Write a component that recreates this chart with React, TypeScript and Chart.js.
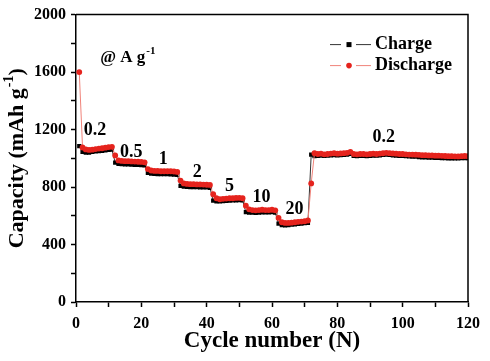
import React, { useEffect, useRef } from 'react';
import { Chart, registerables } from 'chart.js';

Chart.register(...registerables);

const SERIF = '"Liberation Serif", "Times New Roman", serif';

// Capacity (mAh g-1) per cycle, cycles 1..120
const dischargeCapacity: number[] = [
  // 0.2 A g-1 (1-11)
  1600, 1075, 1062, 1058, 1060, 1064, 1068, 1070, 1074, 1078, 1080,
  // 0.5 (12-21)
  1020, 985, 982, 980, 980, 978, 977, 976, 975, 972,
  // 1 (22-31)
  925, 915, 912, 912, 910, 910, 910, 910, 908, 905,
  // 2 (32-41)
  845, 825, 822, 820, 820, 818, 818, 817, 816, 815,
  // 5 (42-51)
  750, 722, 715, 718, 720, 722, 722, 724, 725, 722,
  // 10 (52-61)
  670, 645, 640, 638, 640, 642, 640, 640, 642, 638,
  // 20 (62-71)
  585, 555, 550, 550, 552, 555, 558, 560, 562, 567,
  // 0.2 (72-120)
  825,
  1035, 1030, 1032, 1028, 1030, 1033, 1035, 1032, 1034, 1036,
  1038, 1045, 1030, 1028, 1030, 1030, 1028, 1030, 1032, 1030,
  1033, 1035, 1038, 1036, 1034, 1032, 1030, 1030, 1028, 1026,
  1026, 1025, 1024, 1022, 1022, 1020, 1020, 1018, 1018, 1017,
  1016, 1015, 1015, 1014, 1013, 1015, 1016, 1015,
];

const chargeCapacity: number[] = [
  1085, 1045, 1040, 1040, 1044, 1048, 1050, 1052, 1055, 1058, 1060,
  970, 962, 960, 958, 957, 956, 955, 954, 952, 950,
  898, 893, 891, 890, 890, 889, 889, 888, 887, 884,
  808, 803, 801, 800, 799, 799, 798, 798, 797, 795,
  705, 700, 700, 702, 704, 706, 707, 708, 709, 707,
  625, 622, 622, 620, 622, 624, 624, 624, 625, 622,
  545, 535, 533, 535, 538, 541, 543, 545, 548, 551,
  1025,
  1015, 1017, 1019, 1017, 1019, 1021, 1022, 1021, 1022, 1023,
  1025, 1030, 1017, 1015, 1017, 1017, 1015, 1017, 1019, 1019,
  1021, 1023, 1025, 1023, 1021, 1019, 1017, 1017, 1015, 1013,
  1012, 1011, 1009, 1007, 1007, 1005, 1005, 1003, 1003, 1002,
  1001, 1000, 1000, 999, 999, 1001, 1002, 1002,
];

// Current-density labels (A g-1) and their anchor points in data coordinates
const rateLabels: string[] = ['0.2', '0.5', '1', '2', '5', '10', '20', '0.2'];
const rateLabelCycle: number[] = [5.8, 16.9, 26.7, 37.1, 47, 56.8, 66.9, 94.2];
const rateLabelCapacity: number[] = [1194, 1042, 993, 903, 806, 729, 646, 1146];

const seriesNames: string[] = ['Charge', 'Discharge'];
const seriesColors: string[] = ['#000000', '#e5231d'];
const lineColors: string[] = ['#333333', '#f0837a'];

const decoPlugin = {
  id: 'deco',
  afterDraw(chart: any) {
    const ctx = chart.ctx as CanvasRenderingContext2D;
    const { left, right, top, bottom } = chart.chartArea;
    const xs = chart.scales.x;
    const ys = chart.scales.y;
    ctx.save();
    // frame (top & right)
    ctx.strokeStyle = '#000';
    ctx.lineWidth = 1.5;
    ctx.beginPath();
    ctx.moveTo(left, top);
    ctx.lineTo(right, top);
    ctx.lineTo(right, bottom);
    ctx.stroke();

    // rate labels
    ctx.fillStyle = '#000';
    ctx.textAlign = 'center';
    ctx.textBaseline = 'middle';
    ctx.font = `bold 18px ${SERIF}`;
    rateLabels.forEach((t, i) => {
      ctx.fillText(t, xs.getPixelForValue(rateLabelCycle[i]), ys.getPixelForValue(rateLabelCapacity[i]));
    });

    // "@ A g-1"
    ctx.textAlign = 'left';
    ctx.font = `bold 17px ${SERIF}`;
    const ax = xs.getPixelForValue(7.4);
    const ay = ys.getPixelForValue(1700);
    const main = '@ A g';
    ctx.fillText(main, ax, ay);
    const mw = ctx.measureText(main).width;
    ctx.font = `bold 11px ${SERIF}`;
    ctx.fillText('-1', ax + mw + 1, ay - 7);

    // legend
    const legendY = [top + 30, top + 51];
    seriesNames.forEach((name, i) => {
      const y = legendY[i];
      ctx.strokeStyle = lineColors[i];
      ctx.lineWidth = 1;
      ctx.beginPath();
      ctx.moveTo(right - 138, y);
      ctx.lineTo(right - 127, y);
      ctx.moveTo(right - 112, y);
      ctx.lineTo(right - 97, y);
      ctx.stroke();
      ctx.fillStyle = seriesColors[i];
      const mx = right - 119;
      if (i === 0) {
        ctx.fillRect(mx - 2.5, y - 2.5, 5, 5);
      } else {
        ctx.beginPath();
        ctx.arc(mx, y, 2.8, 0, Math.PI * 2);
        ctx.fill();
      }
      ctx.fillStyle = '#000';
      ctx.font = `bold 18px ${SERIF}`;
      ctx.textAlign = 'left';
      ctx.textBaseline = 'middle';
      ctx.fillText(name, right - 93, y);
    });

    // y-axis title with superscript
    const cy = (top + bottom) / 2;
    ctx.translate(17, cy);
    ctx.rotate(-Math.PI / 2);
    ctx.textBaseline = 'middle';
    ctx.textAlign = 'left';
    const big = `bold 22px ${SERIF}`;
    const small = `bold 14px ${SERIF}`;
    const p1 = 'Capacity (mAh g';
    const p2 = '-1';
    const p3 = ')';
    ctx.font = big;
    const w1 = ctx.measureText(p1).width;
    const w3 = ctx.measureText(p3).width;
    ctx.font = small;
    const w2 = ctx.measureText(p2).width;
    const total = w1 + w2 + w3 + 1;
    const x0 = -total / 2;
    ctx.font = big;
    ctx.fillText(p1, x0, 0);
    ctx.font = small;
    ctx.fillText(p2, x0 + w1 + 1, -8);
    ctx.font = big;
    ctx.fillText(p3, x0 + w1 + w2 + 1, 0);
    ctx.restore();
  },
};

export default function App() {
  const ref = useRef<HTMLCanvasElement | null>(null);
  useEffect(() => {
    if (!ref.current) return;
    const toPts = (arr: number[]) => arr.map((v, i) => ({ x: i + 1, y: v }));
    const chart = new Chart(ref.current, {
      type: 'line',
      data: {
        datasets: [
          {
            label: 'Discharge',
            data: toPts(dischargeCapacity),
            borderColor: lineColors[1],
            borderWidth: 1,
            pointStyle: 'circle',
            pointRadius: 2.9,
            pointBackgroundColor: seriesColors[1],
            pointBorderColor: seriesColors[1],
            pointBorderWidth: 0,
            order: 0,
          },
          {
            label: 'Charge',
            data: toPts(chargeCapacity),
            borderColor: lineColors[0],
            borderWidth: 1,
            pointStyle: 'rect',
            pointRadius: 3,
            pointBackgroundColor: seriesColors[0],
            pointBorderColor: seriesColors[0],
            pointBorderWidth: 0,
            order: 1,
          },
        ],
      },
      options: {
        animation: false,
        responsive: false,
        maintainAspectRatio: false,
        layout: { padding: { top: 14, right: 22, left: 0, bottom: 0 } },
        plugins: { legend: { display: false }, tooltip: { enabled: false } },
        scales: {
          x: {
            type: 'linear',
            min: 0,
            max: 120,
            ticks: {
              stepSize: 10,
              autoSkip: false,
              maxRotation: 0,
              padding: 7,
              color: '#000',
              font: { family: SERIF, size: 16, weight: 'bold' },
              callback: (v: any) => (Number(v) % 20 === 0 ? String(v) : ''),
            },
            grid: { drawOnChartArea: false, drawTicks: true, tickLength: 5, tickColor: '#000', tickWidth: 1.5 },
            border: { color: '#000', width: 1.5 },
            title: {
              display: true,
              text: 'Cycle number (N)',
              color: '#000',
              font: { family: SERIF, size: 23, weight: 'bold' },
              padding: { top: 0, bottom: 6 },
            },
            afterFit: (s: any) => { s.height = 59; },
          },
          y: {
            min: 0,
            max: 2000,
            ticks: {
              stepSize: 200,
              autoSkip: false,
              padding: 5,
              color: '#000',
              font: { family: SERIF, size: 16, weight: 'bold' },
              callback: (v: any) => (Number(v) % 400 === 0 ? String(v) : ''),
            },
            grid: { drawOnChartArea: false, drawTicks: true, tickLength: 5, tickColor: '#000', tickWidth: 1.5 },
            border: { color: '#000', width: 1.5 },
            title: { display: false },
            afterFit: (s: any) => { s.width = 76; },
          },
        },
      },
      plugins: [decoPlugin],
    });
    return () => chart.destroy();
  }, []);
  return (
    <div style={{ position: 'fixed', left: 0, top: 0, width: 490, height: 361, background: '#fff' }}>
      <canvas ref={ref} width={490} height={361} style={{ display: 'block', width: 490, height: 361 }} />
    </div>
  );
}
